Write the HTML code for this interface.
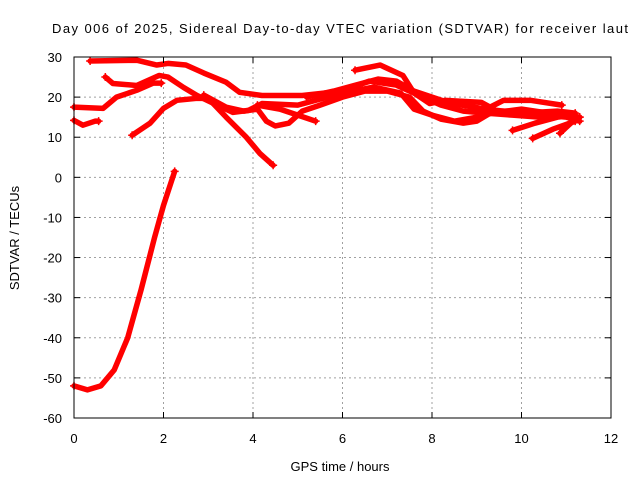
<!DOCTYPE html>
<html><head><meta charset="utf-8"><style>
body{margin:0;background:#fff}
svg{display:block;font-family:"Liberation Sans",sans-serif;font-size:13px}
</style></head><body>
<svg id="chart" width="640" height="480" viewBox="0 0 640 480">
<rect width="640" height="480" fill="#fff"/>
<text x="340" y="33" text-anchor="middle" textLength="576">Day 006 of 2025, Sidereal Day-to-day VTEC variation (SDTVAR) for receiver laut</text>
<g id="grid"></g>
<g id="series"></g>
<rect x="74" y="57" width="537" height="361" fill="none" stroke="#000" stroke-width="1"/>
<g id="ticks"></g>
<text x="340" y="471" text-anchor="middle">GPS time / hours</text>
<text transform="translate(19,238) rotate(-90)" text-anchor="middle">SDTVAR / TECUs</text>
</svg>
<script>
const xTicks=[0,2,4,6,8,10,12];
const yTicks=[30,20,10,0,-10,-20,-30,-40,-50,-60];
const seriesA=[[0,-52],[0.3,-53],[0.6,-52],[0.9,-48],[1.2,-40],[1.5,-28],[1.8,-15],[2.0,-7],[2.25,1.5]];
const seriesB=[[0.36,29],[1.4,29.2],[1.85,28],[2.1,28.4],[2.5,28],[2.9,26],[3.4,23.7],[3.7,21.2],[4.2,20.4],[5.1,20.4],[6,21.5],[6.6,24],[7.2,23],[7.8,20],[8.2,18],[8.7,16.5],[9.2,16],[9.8,15.5],[10.4,15],[11,15.5],[11.3,15]];
const seriesC=[[0.7,25],[0.87,23.4],[1.4,22.9],[1.9,25.4],[2.1,25],[2.45,22.4],[2.75,20.4],[3.2,18],[3.55,16.2],[3.9,16.7],[4.2,18.4],[5,18],[6,21],[6.7,22.5],[7.3,21],[7.6,17],[8,15.5],[8.5,14],[9,15],[9.5,16.5],[10,16.5],[10.5,15.5],[11,15],[11.3,14]];
const seriesD=[[0,17.5],[0.65,17.2],[0.95,20],[1.4,21.7],[1.77,23.5],[1.95,23.5]];
const seriesE=[[0,14.2],[0.2,13],[0.47,14],[0.55,14]];
const seriesF=[[1.3,10.5],[1.7,13.5],[2.0,17.2],[2.3,19.2],[2.75,19.7],[3,19.7],[3.4,15],[3.85,10],[4.15,6],[4.45,3]];
const seriesG=[[2.9,20.5],[3.4,17.5],[3.8,16.5],[4.1,17],[4.3,14],[4.5,12.8],[4.8,13.5],[5.1,16.5],[5.5,18],[6,20],[6.5,21.5],[7,21.5],[7.5,20],[7.8,16.5],[8.2,14.5],[8.7,13.5],[9,14],[9.3,16],[10,17],[10.6,16],[11.2,15]];
const seriesH=[[4.1,18],[4.6,17],[5.0,15.5],[5.4,14]];
const seriesI=[[6.28,26.7],[6.84,28],[7.35,25.4],[7.6,21],[7.95,18.4],[8.3,19.2],[9.1,18.7],[9.3,17.5],[9.6,19.2],[10.2,19.2],[10.9,18]];
const seriesJ=[[9.8,11.7],[10.3,13.5],[10.8,15],[11.2,15.5]];
const seriesK=[[10.25,9.7],[10.7,12],[11.2,14]];
const seriesL=[[10.86,11],[11.1,13.5],[11.3,15]];
const seriesM=[[5.2,20],[5.8,21.5],[6.3,23],[6.8,24.5],[7.2,24],[7.6,21.5],[8,20],[8.4,18.5],[9.2,17],[10,16],[10.8,16.5],[11.2,16]];
const allSeries=[seriesA,seriesB,seriesC,seriesD,seriesE,seriesF,seriesG,seriesH,seriesI,seriesJ,seriesK,seriesL,seriesM];
const X0=74,X1=611,Y0=418,Y1=57;
const sx=v=>X0+(v-0)/12*(X1-X0);
const sy=v=>Y0-(v+60)/90*(Y0-Y1);
const NS="http://www.w3.org/2000/svg";
const grid=document.getElementById('grid'),ticks=document.getElementById('ticks'),ser=document.getElementById('series');
function mk(tag,attrs,parent){const e=document.createElementNS(NS,tag);for(const k in attrs)e.setAttribute(k,attrs[k]);parent.appendChild(e);return e;}
xTicks.forEach(t=>{const x=sx(t);
 if(t>0&&t<12){const g=mk('line',{x1:x,x2:x,y1:Y1,y2:Y0,stroke:'#a0a0a0','stroke-dasharray':'2,3'},grid);
 
 }
 mk('line',{x1:x,x2:x,y1:Y0,y2:Y0-6,stroke:'#000'},ticks);mk('line',{x1:x,x2:x,y1:Y1,y2:Y1+6,stroke:'#000'},ticks);
 const l=mk('text',{x:x,y:Y0+25,'text-anchor':'middle'},ticks);l.textContent=t;
 
 });
yTicks.forEach(t=>{const y=sy(t);
 if(t>-60&&t<30){const g=mk('line',{x1:X0,x2:X1,y1:y,y2:y,stroke:'#a0a0a0','stroke-dasharray':'2,3'},grid);
 
 }
 mk('line',{x1:X0,x2:X0+6,y1:y,y2:y,stroke:'#000'},ticks);mk('line',{x1:X1,x2:X1-6,y1:y,y2:y,stroke:'#000'},ticks);
 const l=mk('text',{x:X0-12,y:y+5,'text-anchor':'end'},ticks);l.textContent=t;
 
 });
allSeries.forEach((s,i)=>{
 const p=mk('polyline',{points:s.map(d=>sx(d[0])+','+sy(d[1])).join(' '),fill:'none',stroke:'#ff0000','stroke-width':5.5,'stroke-linejoin':'round','stroke-linecap':'round'},ser);
 
 
 [s[0],s[s.length-1]].forEach(d=>{const x=sx(d[0]),y=sy(d[1]);
  mk('path',{d:`M${x-4},${y}h8M${x},${y-4}v8`,stroke:'#ff0000','stroke-width':1.5},ser);});
});
</script>
</body></html>
